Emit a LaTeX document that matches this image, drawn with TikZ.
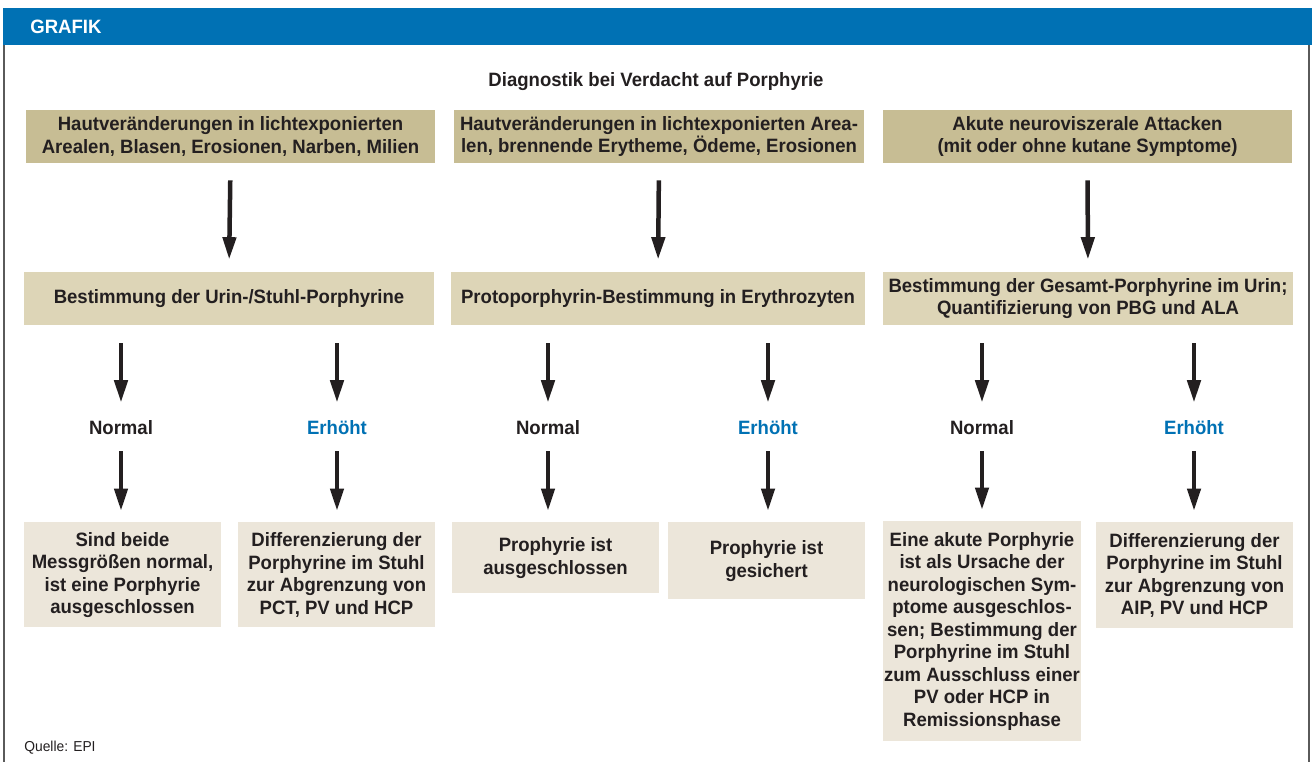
\documentclass[tikz,border=0pt]{standalone}
\usepackage{fontspec}
\setmainfont{Liberation Sans}[FakeStretch=0.96]
\usetikzlibrary{arrows.meta}

\definecolor{grafikblau}{RGB}{0,113,180}
\definecolor{tanA}{RGB}{199,189,148}
\definecolor{tanB}{RGB}{221,213,183}
\definecolor{tanC}{RGB}{236,230,218}
\definecolor{ink}{RGB}{35,31,32}
\definecolor{rahmen}{RGB}{90,90,90}

\begin{document}
\begin{tikzpicture}[x=0.02cm,y=-0.02cm,
  every node/.style={font=\fontsize{11}{12.8}\selectfont\bfseries,text=ink,align=center,inner sep=0pt},
  dunkel/.style={fill=tanA,minimum height=1.06cm},
  mittel/.style={fill=tanB,minimum height=1.06cm},
  hell/.style={fill=tanC,anchor=north,minimum width=3.94cm},
  befund/.style={anchor=base,text height=0.28cm,text depth=0pt},
  pfeil/.style={-{Triangle[width=0.26cm,length=0.45cm]},line width=0.09cm,draw=ink}]
\useasboundingbox (0,0) rectangle (1312,762);
\fill[white] (0,0) rectangle (1312,762);

% frame
\fill[grafikblau] (3,8) rectangle (1312,45);
\draw[rahmen,line width=0.7pt] (4,45) -- (4,762);
\draw[rahmen,line width=0.7pt] (1309,45) -- (1309,762);
\node[anchor=west,text=white,font=\fontsize{11}{13}\selectfont\bfseries] (kopf) at (30,27) {GRAFIK};
\node[anchor=base] (titel) at (656,86) {Diagnostik bei Verdacht auf Porphyrie};
\node[anchor=west,font=\fontsize{8.2}{10}\selectfont] (quelle) at (24,748) {Quelle: EPI};

% symptoms
\node[dunkel,minimum width=8.18cm] (t1) at (230.5,136.5) {Hautveränderungen in lichtexponierten\\Arealen, Blasen, Erosionen, Narben, Milien};
\node[dunkel,minimum width=8.2cm] (t2) at (659,136.5) {Hautveränderungen in lichtexponierten Area-\\len, brennende Erytheme, Ödeme, Erosionen};
\node[dunkel,minimum width=8.18cm] (t3) at (1087.5,136.5) {Akute neuroviszerale Attacken\\(mit oder ohne kutane Symptome)};

% tests
\node[mittel,minimum width=8.2cm] (s1) at (229,298.5) {Bestimmung der Urin-/Stuhl-Porphyrine};
\node[mittel,minimum width=8.28cm] (s2) at (658,298.5) {Protoporphyrin-Bestimmung in Erythrozyten};
\node[mittel,minimum width=8.2cm] (s3) at (1088,298.5) {Bestimmung der Gesamt-Porphyrine im Urin;\\Quantifizierung von PBG und ALA};

% results
\node[befund] (n1) at (121,434) {Normal};
\node[befund,text=grafikblau] (n2) at (337,434) {Erhöht};
\node[befund] (n3) at (548,434) {Normal};
\node[befund,text=grafikblau] (n4) at (768,434) {Erhöht};
\node[befund] (n5) at (982,434) {Normal};
\node[befund,text=grafikblau] (n6) at (1194,434) {Erhöht};

% conclusions
\node[hell,minimum height=2.1cm] (e1) at (122.5,522) {Sind beide\\Messgrößen normal,\\ist eine Porphyrie\\ausgeschlossen};
\node[hell,minimum height=2.1cm] (e2) at (336.5,522) {Differenzierung der\\Porphyrine im Stuhl\\zur Abgrenzung von\\PCT, PV und HCP};
\node[hell,minimum width=4.14cm,minimum height=1.42cm] (e3) at (555.5,522) {Prophyrie ist\\ausgeschlossen};
\node[hell,minimum height=1.54cm] (e4) at (766.5,522) {Prophyrie ist\\gesichert};
\node[hell,minimum width=3.96cm,minimum height=4.4cm] (e5) at (982,521) {Eine akute Porphyrie\\ist als Ursache der\\neurologischen Sym-\\ptome ausgeschlos-\\sen; Bestimmung der\\Porphyrine im Stuhl\\zum Ausschluss einer\\PV oder HCP in\\Remissionsphase};
\node[hell,minimum height=2.12cm] (e6) at (1194.5,522) {Differenzierung der\\Porphyrine im Stuhl\\zur Abgrenzung von\\AIP, PV und HCP};

% arrows
\foreach \i in {1,2,3}
  \draw[pfeil,shorten <=0.34cm,shorten >=0.24cm] (t\i.south) -- (s\i.north);
\foreach \i/\s in {1/1,2/1,3/2,4/2,5/3,6/3}
{
  \draw[pfeil,shorten <=0.36cm,shorten >=0.34cm] (s\s.south -| n\i) -- (n\i.north);
  \draw[pfeil,shorten <=0.34cm,shorten >=0.22cm] (n\i.south) -- (e\i.north -| n\i);
}
\end{tikzpicture}
\end{document}
